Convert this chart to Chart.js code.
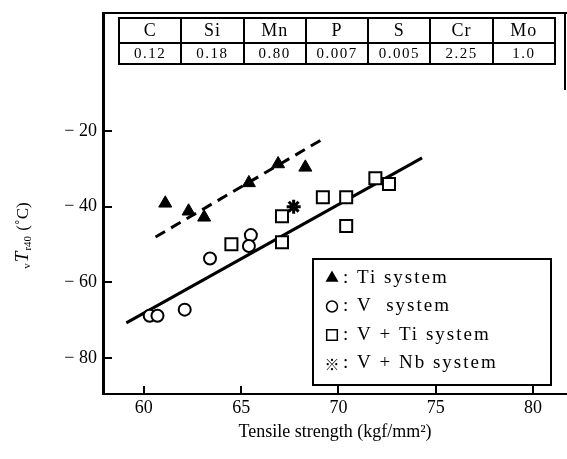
<!DOCTYPE html>
<html>
<head>
<meta charset="utf-8">
<script src="https://cdn.jsdelivr.net/npm/chart.js@4.4.1/dist/chart.umd.min.js"></script>
<style>
  html, body { margin: 0; padding: 0; background: #fff; }
  #wrap { width: 567px; height: 459px; }
</style>
</head>
<body>
<div id="wrap"><canvas id="chart" width="567" height="459"></canvas></div>
<script>
// chemical composition (mass %)
const elements = ["C", "Si", "Mn", "P", "S", "Cr", "Mo"];
const composition = ["0.12", "0.18", "0.80", "0.007", "0.005", "2.25", "1.0"];

// tensile strength (kgf/mm2) vs transition temperature (°C)
const tiStrength = [61.1, 62.3, 63.1, 65.4, 66.9, 68.3];
const tiTemp = [-39.1, -41.2, -42.8, -33.7, -28.7, -29.6];
const vStrength = [60.3, 60.7, 62.1, 63.4, 65.5, 65.4];
const vTemp = [-68.8, -68.8, -67.2, -53.7, -47.5, -50.4];
const vTiStrength = [64.5, 67.1, 67.1, 69.2, 70.4, 70.4, 71.9, 72.6];
const vTiTemp = [-49.9, -42.5, -49.4, -37.5, -37.5, -45.1, -32.5, -34.0];
const vNbStrength = [67.7];
const vNbTemp = [-40.0];

// trend lines (end points)
const tiTrendX = [60.6, 69.1];
const tiTrendY = [-48.0, -22.4];
const vTrendX = [59.1, 74.3];
const vTrendY = [-70.7, -27.1];

const xTicks = [60, 65, 70, 75, 80];
const yTicks = [-20, -40, -60, -80];

const serif = "'Liberation Serif', 'Times New Roman', serif";
const ink = "#000";

const pts = (xs, ys) => xs.map((x, i) => ({ x, y: ys[i] }));

// no extra padding for edge labels, the plot fills the frame
const noPad = (s) => {
  s.paddingLeft = 0;
  s.paddingRight = 0;
  s.paddingTop = 0;
  s.paddingBottom = 0;
};

// inward tick marks, frame, composition table, legend and y title
const decorations = {
  id: "decorations",
  afterDraw(chart) {
    const { ctx, chartArea: a, scales: { x, y } } = chart;
    ctx.save();
    ctx.strokeStyle = ink;
    ctx.fillStyle = ink;

    // tick marks pointing into the plot
    ctx.lineWidth = 2;
    ctx.beginPath();
    xTicks.forEach((v) => {
      const px = Math.round(x.getPixelForValue(v));
      ctx.moveTo(px, a.bottom);
      ctx.lineTo(px, a.bottom - 8);
    });
    yTicks.forEach((v) => {
      const py = Math.round(y.getPixelForValue(v));
      ctx.moveTo(a.left, py);
      ctx.lineTo(a.left + 9, py);
    });
    ctx.stroke();

    // top frame line and short right edge
    ctx.beginPath();
    ctx.moveTo(a.left, a.top);
    ctx.lineTo(a.right, a.top);
    ctx.moveTo(a.right - 2, a.top);
    ctx.lineTo(a.right - 2, a.top + 77);
    ctx.stroke();

    // composition table
    const tLeft = 119, tRight = 555, tTop = 18, tMid = 43, tBottom = 64;
    const colW = (tRight - tLeft) / elements.length;
    ctx.lineWidth = 2;
    ctx.strokeRect(tLeft, tTop, tRight - tLeft, tBottom - tTop);
    ctx.beginPath();
    ctx.moveTo(tLeft, tMid);
    ctx.lineTo(tRight, tMid);
    for (let i = 1; i < elements.length; i++) {
      const cx = Math.round(tLeft + colW * i);
      ctx.moveTo(cx, tTop);
      ctx.lineTo(cx, tBottom);
    }
    ctx.stroke();
    ctx.textAlign = "center";
    ctx.textBaseline = "middle";
    elements.forEach((el, i) => {
      const cx = tLeft + colW * (i + 0.5);
      ctx.font = "18px " + serif;
      ctx.letterSpacing = "1px";
      ctx.fillText(el, cx, (tTop + tMid) / 2 + 1);
      ctx.font = "15px " + serif;
      ctx.letterSpacing = "1.5px";
      ctx.fillText(composition[i], cx, (tMid + tBottom) / 2 + 1);
    });

    // legend box
    const lLeft = 313, lTop = 259, lRight = 551, lBottom = 385;
    ctx.lineWidth = 2;
    ctx.fillStyle = "#fff";
    ctx.fillRect(lLeft, lTop, lRight - lLeft, lBottom - lTop);
    ctx.strokeRect(lLeft, lTop, lRight - lLeft, lBottom - lTop);
    const entries = chart.data.datasets.filter((d) => d.legendMark);
    entries.forEach((d, i) => {
      const cy = 278 + i * 28.5;
      ctx.fillStyle = ink;
      ctx.strokeStyle = ink;
      if (d.legendMark === "text") {
        ctx.font = "15px 'Noto Sans CJK JP', sans-serif";
        ctx.textAlign = "center";
        ctx.letterSpacing = "0px";
        ctx.fillText("\u203B", 332, cy + 1);
      } else {
        ctx.fillStyle = d.backgroundColor;
        ctx.lineWidth = 1.5;
        Chart.helpers.drawPoint(ctx, {
          pointStyle: d.pointStyle,
          radius: d.legendRadius,
          borderWidth: 1.5
        }, 332, cy);
      }
      ctx.fillStyle = ink;
      ctx.textAlign = "left";
      ctx.font = "19px " + serif;
      ctx.letterSpacing = "2px";
      ctx.fillText(":", 343, cy);
      ctx.fillText(d.label, 357, cy);
    });

    // y axis title: vTr40 (°C)
    ctx.fillStyle = ink;
    ctx.translate(22, 235);
    ctx.rotate(-Math.PI / 2);
    ctx.letterSpacing = "0px";
    ctx.textAlign = "left";
    ctx.textBaseline = "alphabetic";
    const parts = [
      { t: "v", f: "11px " + serif, dy: 2 },
      { t: "T", f: "italic 19px " + serif, dy: 0 },
      { t: "r40", f: "11px " + serif, dy: 3 },
      { t: " (\u02DAC)", f: "17px " + serif, dy: 0 }
    ];
    let total = 0;
    parts.forEach((p) => { ctx.font = p.f; p.w = ctx.measureText(p.t).width + 1; total += p.w; });
    let cx = -total / 2;
    parts.forEach((p) => {
      ctx.font = p.f;
      ctx.fillText(p.t, cx, 6 + p.dy);
      cx += p.w;
    });
    ctx.restore();
  }
};

new Chart(document.getElementById("chart"), {
  type: "scatter",
  data: {
    datasets: [
      {
        label: "Ti system",
        data: pts(tiStrength, tiTemp),
        pointStyle: "triangle",
        pointRadius: 7.5,
        backgroundColor: ink,
        borderColor: ink,
        borderWidth: 1,
        legendMark: "point",
        legendRadius: 6,
        order: 0
      },
      {
        label: "V  system",
        data: pts(vStrength, vTemp),
        pointStyle: "circle",
        pointRadius: 6,
        backgroundColor: "#fff",
        borderColor: ink,
        borderWidth: 2,
        legendMark: "point",
        legendRadius: 5.5,
        order: 0
      },
      {
        label: "V + Ti system",
        data: pts(vTiStrength, vTiTemp),
        pointStyle: "rect",
        pointRadius: 8.5,
        backgroundColor: "#fff",
        borderColor: ink,
        borderWidth: 2,
        legendMark: "point",
        legendRadius: 7.5,
        order: 0
      },
      {
        label: "V + Nb system",
        data: pts(vNbStrength, vNbTemp),
        pointStyle: "star",
        pointRadius: 7,
        backgroundColor: ink,
        borderColor: ink,
        borderWidth: 3,
        legendMark: "text",
        order: 0
      },
      {
        data: pts(tiTrendX, tiTrendY),
        showLine: true,
        pointRadius: 0,
        borderColor: ink,
        borderWidth: 3,
        borderDash: [11, 7],
        order: 1
      },
      {
        data: pts(vTrendX, vTrendY),
        showLine: true,
        pointRadius: 0,
        borderColor: ink,
        borderWidth: 3,
        order: 1
      }
    ]
  },
  options: {
    responsive: false,
    animation: false,
    devicePixelRatio: 1,
    layout: { autoPadding: false, padding: { top: 13, right: 0, left: 0, bottom: 0 } },
    plugins: {
      legend: { display: false },
      tooltip: { enabled: false }
    },
    scales: {
      x: {
        type: "linear",
        min: 57.9,
        max: 81.75,
        afterBuildTicks: (s) => { s.ticks = xTicks.map((v) => ({ value: v })); },
        afterFit: (s) => { s.height = 65; noPad(s); },
        grid: { display: false, drawTicks: false },
        border: { display: true, color: ink, width: 2 },
        ticks: {
          color: ink,
          autoSkip: false,
          maxRotation: 0,
          padding: 3,
          font: { family: serif, size: 18 }
        },
        title: {
          display: true,
          text: "Tensile strength (kgf/mm\u00B2)",
          color: ink,
          font: { family: serif, size: 18 },
          padding: { top: 0, bottom: 16 }
        }
      },
      y: {
        type: "linear",
        min: -89.5,
        max: 11.2,
        afterBuildTicks: (s) => { s.ticks = yTicks.map((v) => ({ value: v })); },
        afterFit: (s) => { s.width = 103; noPad(s); },
        grid: { display: false, drawTicks: false },
        border: { display: true, color: ink, width: 3 },
        ticks: {
          color: ink,
          autoSkip: false,
          padding: 6,
          font: { family: serif, size: 18 },
          callback: (v) => "\u2212 " + Math.abs(v)
        }
      }
    }
  },
  plugins: [decorations]
});
</script>
</body>
</html>
